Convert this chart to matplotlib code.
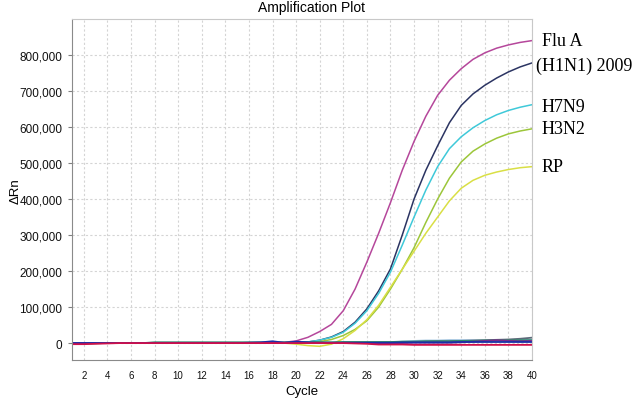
import numpy as np
import matplotlib.pyplot as plt

# cycle numbers and delta Rn values (in thousands)
cycles = np.arange(1, 41)

flu_a = [0, 0, 0, 0, 0, 0, 0, 0.5, 0.5, 0.5, 0.5, 0.5, 0.5, 0.5, 0.5, 0.5, 0.5, 1,
         2, 6, 16, 32, 52, 90, 150, 225, 305, 390, 480, 560, 630, 688, 730, 762,
         788, 806, 819, 828, 835, 840]
h1n1 = [0, 0, 0, 0, 0, 0, 0, 0.5, 0.5, 0.5, 0.5, 0.5, 0.5, 0.5, 0.5, 0.5, 0.5, 0.5,
        0.5, 1, 3, 8, 17, 32, 58, 95, 145, 206, 300, 400, 480, 548, 612, 660,
        692, 716, 736, 753, 767, 778]
h7n9 = [-2, -3, -1, 0, 0, 0, 0, 1, 1, 1, 1, 1, 1, 1, 1, 1, 1, 1,
        0.5, 1, 3, 8, 16, 30, 55, 90, 138, 197, 272, 350, 425, 490, 540, 573,
        598, 618, 634, 646, 655, 662]
h3n2 = [0, 0, 0, 0, 0, 0, 0, 0, 0, 0, 0, 0, 0, 0, 0, 0, 0, 0,
        0, 0, 1, 4, 10, 21, 38, 62, 100, 150, 205, 265, 335, 400, 458, 503,
        533, 553, 569, 581, 589, 595]
rp = [-2, -2, -1, 0, 0, 0, 0, 0, 0, 0, 0, 0, 0, 0, 0, 0, 0, 0,
      0, -3, -7, -9, -3, 12, 35, 65, 105, 155, 205, 255, 305, 350, 395, 430,
      452, 466, 475, 482, 487, 490]

# negative / background wells
base_red = [-3, -3, -2, -1, 0, 0, 0, 0, 0, 0, 0, 0, 0, 0, 0, 0, 0, 0,
            0, 0, 0, 0, 0, 0, -1, -2, -4, -4, -4, -5, -5, -5, -5, -5,
            -5, -5, -5, -5, -5, -5]
base_blue = [0, 0, 0, 0, 0, 0, 0, 0, 0, 0, 0, 0, 0, 0, 0, 1, 2, 5,
             1, 4, 2, 1, 1, 1, 1, 1, 1, 1, 2, 2, 2, 2, 2, 3,
             3, 3, 3, 3, 3, 3]
base_teal = [0, 0, 0, 0, 0, 0, 0, 2, 2, 2, 2, 2, 2, 2, 2, 2, 2, 2,
             2, 2, 2, 2, 2, 3, 3, 3, 3, 3, 4, 4, 5, 5, 5, 6,
             6, 7, 7, 7, 8, 8]
base_gray = [0, 0, 0, 0, 0, 0, 0, 1, 1, 1, 1, 1, 1, 1, 1, 1, 1, 1,
             1, 1, 1, 1, 1, 1, 1, 1, 1, 1, 2, 3, 4, 5, 5, 6,
             7, 8, 9, 10, 12, 15]
base_purple = [0, 0, 0, 0, 0, 0, 0, 0, 0, 0, 0, 0, 0, 0, 0, 0, 0, 0,
               0, 0, 0, 0, 0, 0, 0, 0, 0, 0, 0, 1, 1, 1, 1, 2,
               4, 6, 8, 6, 5, 6]
base_lblue = [0, 0, 0, 0, 0, 0, 0, 0, 0, 0, 0, 0, 0, 0, 0, 0, 0, 0,
              0, 0, 0, 0, 0, 0, 0, 0, 1, 2, 4, 6, 7, 7, 8, 8,
              8, 7, 7, 8, 8, 9]

labels = ["Flu A", "(H1N1) 2009", "H7N9", "H3N2", "RP"]

fig = plt.figure(figsize=(6.38, 4.02), dpi=100)
ax = fig.add_axes([72 / 638, 1 - 361 / 402, 460 / 638, 341 / 402])

ax.grid(True, color='#d4d4d4', linestyle=(0, (2, 2)), linewidth=0.8)
ax.set_axisbelow(True)

pos_series = [(flu_a, '#b5479b'), (h1n1, '#2b3462'), (h7n9, '#3fc9d9'),
              (h3n2, '#9cc63a'), (rp, '#d9df45')]
for vals, col in pos_series:
    ax.plot(cycles, np.array(vals) * 1000, color=col, lw=1.1)

base_series = [(base_lblue, '#8fb8d8'), (base_gray, '#5d6b7a'), (base_teal, '#2e8b6a'),
               (base_purple, '#7a2a8a'), (base_blue, '#1a2fa8'), (base_red, '#d0104a')]
for vals, col in base_series:
    ax.plot(cycles, np.array(vals) * 1000, color=col, lw=1.3)

ax.set_xlim(1, 40)
ax.set_ylim(-47000, 900000)
ax.set_xticks(np.arange(2, 41, 2))
ax.set_yticks(np.arange(0, 800001, 100000))
ax.set_yticklabels([f"{v:,}" for v in range(0, 800001, 100000)])

for lab in ax.get_yticklabels():
    lab.set_fontfamily('Liberation Sans')
    lab.set_fontsize(8.5)
for lab in ax.get_xticklabels():
    lab.set_fontfamily('Liberation Sans')
    lab.set_fontsize(7)

ax.tick_params(axis='y', length=3, width=0.8, color='#808080', pad=4, labelcolor='#111111')
ax.tick_params(axis='x', length=0, pad=7, labelcolor='#111111')

for side in ['left', 'bottom']:
    ax.spines[side].set_color('#8a8a8a')
for side in ['top', 'right']:
    ax.spines[side].set_color('#c8c8c8')

fig.text(311 / 638, 1 - 8 / 402, "Amplification Plot", ha='center', va='center',
         fontsize=10, family='Liberation Sans')
fig.text(302 / 638, 1 - 392 / 402, "Cycle", ha='center', va='center',
         fontsize=9.5, family='Liberation Sans')
fig.text(16 / 638, 1 - 191 / 402, "ΔRn", ha='center', va='center', rotation=90,
         fontsize=9.5, family=['Liberation Sans', 'DejaVu Sans'])

label_pos = [(542, 42), (536, 66), (542, 107), (542, 130), (542, 168)]
for txt, (px, py) in zip(labels, label_pos):
    fig.text(px / 638, 1 - py / 402, txt, ha='left', va='center',
             fontsize=13, family='Liberation Serif')

fig.savefig('out.png', dpi=100)
